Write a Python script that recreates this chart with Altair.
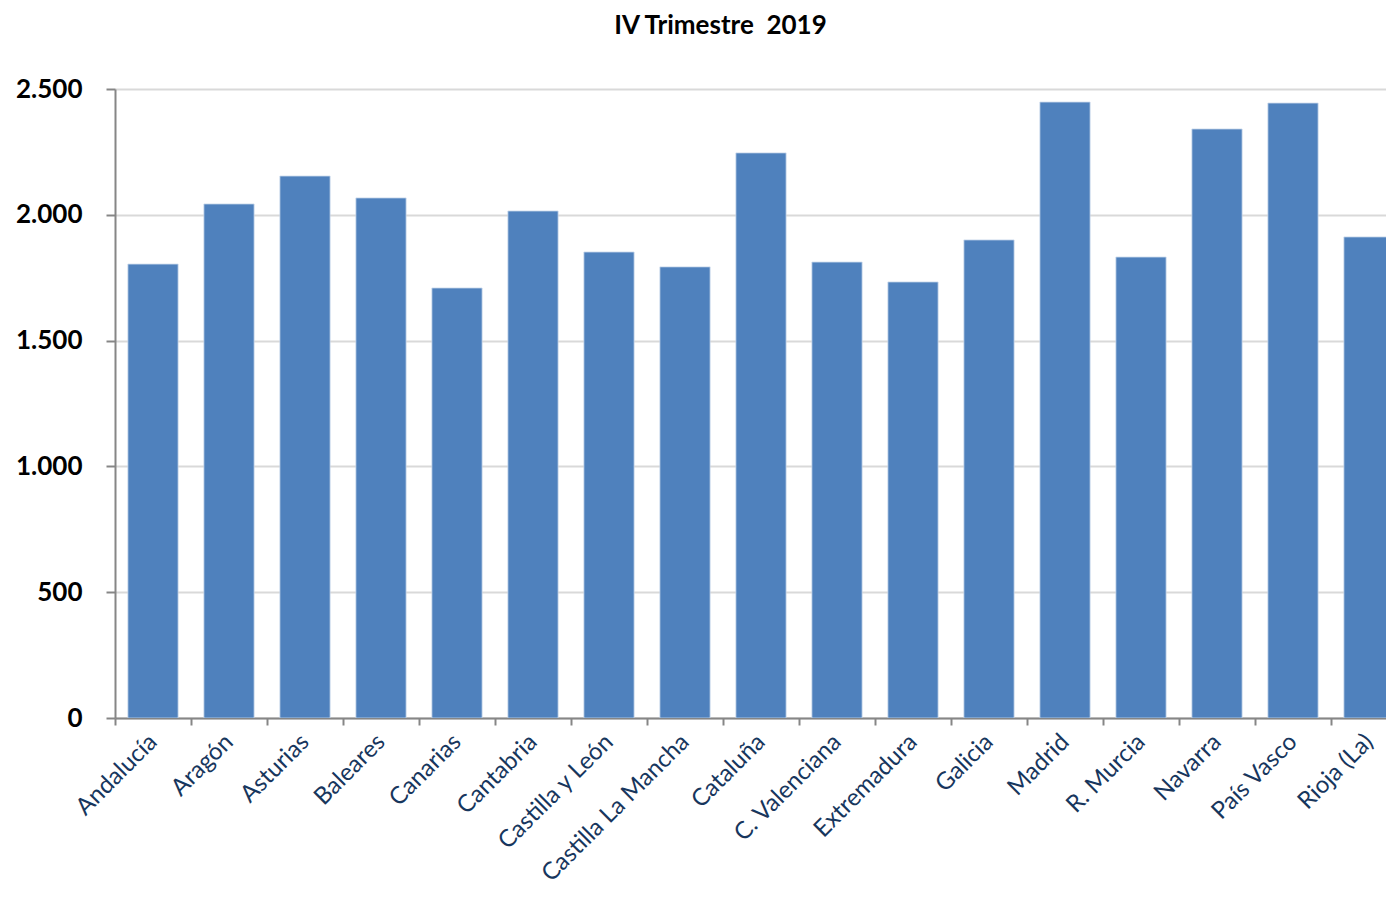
import altair as alt
import pandas as pd

regions = ["Andalucía", "Aragón", "Asturias", "Baleares", "Canarias", "Cantabria",
           "Castilla y León", "Castilla La Mancha", "Cataluña", "C. Valenciana",
           "Extremadura", "Galicia", "Madrid", "R. Murcia", "Navarra", "País Vasco",
           "Rioja (La)"]
values = [1804, 2043, 2154, 2067, 1709, 2015, 1852, 1793, 2246, 1812,
          1733, 1900, 2448, 1832, 2341, 2444, 1912]
y_ticks = [0, 500, 1000, 1500, 2000, 2500]

df = pd.DataFrame({"region": regions, "value": values})

chart = alt.Chart(df).mark_bar(
    color="#4F81BD", stroke="#C5D5EA", strokeWidth=0.8, clip=True
).encode(
    x=alt.X("region:N", sort=regions, title=None,
            scale=alt.Scale(range=[0, 1292], paddingInner=0.34, paddingOuter=0.17),
            axis=alt.Axis(labelAngle=-45, labelAlign="right", labelBaseline="middle",
                          labelFont="Lato", labelFontSize=24, labelColor="#17365D",
                          labelPadding=13, tickOffset=-38, labelOffset=38,
                          tickSize=7, tickColor="#868686", tickWidth=2,
                          domainColor="#868686", domainWidth=2, grid=False,
                          labelOverlap=False, labelLimit=0)),
    y=alt.Y("value:Q", title=None,
            scale=alt.Scale(domain=[0, 2500], nice=False),
            axis=alt.Axis(values=y_ticks,
                          labelExpr="replace(format(datum.value, ','), ',', '.')",
                          labelFont="Lato", labelFontSize=26, labelFontWeight="bold",
                          labelColor="#000000", labelPadding=24,
                          tickSize=9, tickColor="#868686", tickWidth=2,
                          domainColor="#868686", domainWidth=2,
                          grid=True, gridColor="#D9D9D9", gridWidth=2))
).properties(
    width=1271, height=629,
    title=alt.TitleParams("IV Trimestre\u00a0 2019", font="Lato", fontSize=26,
                          fontWeight="bold", color="#000000", anchor="middle",
                          dx=-30, offset=37),
    autosize=alt.AutoSizeParams(type="none"),
    padding={"left": 107, "top": 81, "right": 0, "bottom": 172}
).configure_view(stroke=None)

chart.save("out.html", embed_options={"renderer": "svg", "actions": False})
